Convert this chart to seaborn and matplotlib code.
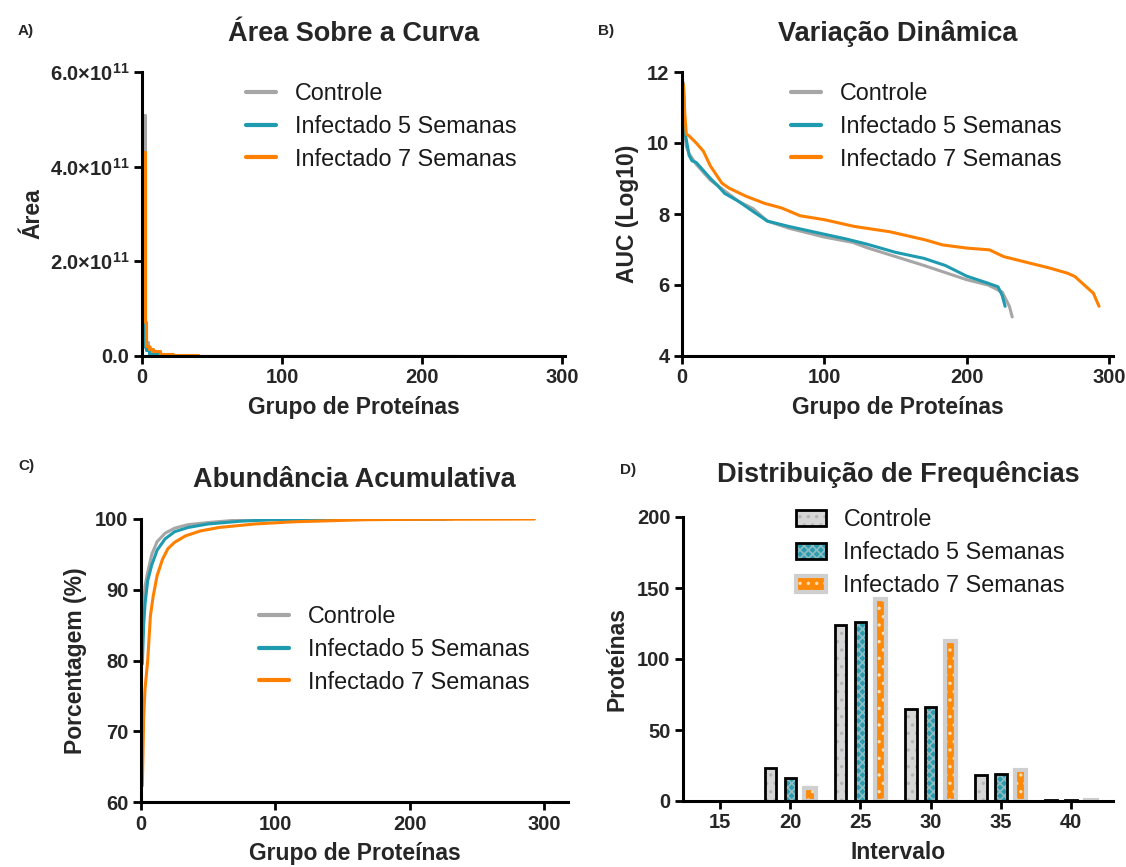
import numpy as np
import pandas as pd
import matplotlib
matplotlib.use("Agg")
import matplotlib.pyplot as plt
import seaborn as sns
from matplotlib.patches import Patch, Rectangle
from matplotlib.lines import Line2D
from matplotlib.ticker import FuncFormatter

# ---------------- DATA ----------------
groups = ["Controle", "Infectado 5 Semanas", "Infectado 7 Semanas"]

# Panel A: area (x1e11) vs protein rank
a_rank_ctrl = [1, 2, 3, 4, 6, 8, 12, 20, 40, 80, 150, 232]
a_area_ctrl = [5.1, 0.55, 0.3, 0.18, 0.1, 0.07, 0.04, 0.015, 0.004, 0.0008, 0.0001, 0.00001]
a_rank_inf5 = [1, 2, 3, 5, 8, 13, 22, 40, 80, 150, 227]
a_area_inf5 = [4.0, 0.2, 0.12, 0.05, 0.035, 0.025, 0.01, 0.003, 0.0007, 0.00008, 0.00001]
a_rank_inf7 = [1, 2, 3, 5, 8, 13, 22, 40, 80, 150, 293]
a_area_inf7 = [4.3, 0.72, 0.22, 0.15, 0.1, 0.05, 0.02, 0.006, 0.002, 0.0003, 0.00003]

# Panel B: AUC (log10) vs protein rank
b_rank_ctrl = [1, 2, 3, 5, 10, 20, 30, 40, 50, 60, 75, 100, 120, 130, 150, 170, 200, 215, 225, 230, 232]
b_auc_ctrl = [11.7, 10.3, 9.9, 9.7, 9.4, 8.95, 8.65, 8.35, 8.15, 7.8, 7.6, 7.35, 7.2, 7.05, 6.8, 6.55, 6.15, 6.0, 5.8, 5.4, 5.1]
b_rank_inf5 = [1, 2, 3, 5, 7, 10, 20, 25, 30, 40, 50, 60, 75, 100, 115, 130, 150, 170, 185, 200, 215, 222, 225, 227]
b_auc_inf5 = [11.6, 10.3, 10.1, 9.65, 9.5, 9.45, 9.0, 8.8, 8.58, 8.35, 8.07, 7.8, 7.65, 7.43, 7.3, 7.15, 6.92, 6.75, 6.55, 6.25, 6.05, 5.95, 5.7, 5.4]
b_rank_inf7 = [1, 2, 3, 5, 10, 15, 20, 28, 33, 45, 58, 70, 83, 100, 121, 146, 171, 183, 200, 216, 226, 246, 259, 271, 276, 284, 289, 293]
b_auc_inf7 = [11.65, 10.8, 10.25, 10.2, 10.0, 9.77, 9.35, 8.87, 8.73, 8.5, 8.3, 8.17, 7.95, 7.84, 7.65, 7.5, 7.27, 7.13, 7.04, 6.99, 6.8, 6.6, 6.47, 6.33, 6.24, 5.95, 5.77, 5.4]

# Panel C: cumulative abundance (%) vs protein rank
c_rank_ctrl = [1, 2, 3, 5, 8, 12, 18, 25, 35, 50, 75, 100, 232]
c_pct_ctrl = [84.0, 88.0, 90.5, 92.5, 95.0, 96.8, 98.0, 98.7, 99.2, 99.5, 99.9, 100.0, 100.0]
c_rank_inf5 = [1, 2, 3, 5, 8, 12, 18, 25, 35, 50, 75, 100, 135, 227]
c_pct_inf5 = [79.5, 85.0, 88.0, 91.3, 93.5, 95.6, 97.2, 98.2, 98.8, 99.3, 99.7, 99.9, 100.0, 100.0]
c_rank_inf7 = [1, 2, 3, 5, 7, 9, 12, 16, 20, 25, 33, 44, 58, 85, 113, 167, 200, 293]
c_pct_inf7 = [62.3, 72.0, 76.0, 80.0, 86.3, 89.0, 92.0, 94.3, 95.8, 96.7, 97.6, 98.3, 98.8, 99.3, 99.6, 99.9, 99.95, 100.0]

# Panel D: frequency distribution
d_intervals = [15, 20, 25, 30, 35, 40]
d_ctrl = [0, 23, 124, 65, 18, 1]
d_inf5 = [0, 16, 126, 66, 19, 1]
d_inf7 = [0, 9, 142, 113, 22, 1]

# ---------------- STYLE ----------------
sns.set_theme(style="ticks")
plt.rcParams["font.family"] = ["Liberation Sans", "DejaVu Sans"]
plt.rcParams["mathtext.fontset"] = "custom"
plt.rcParams["mathtext.rm"] = "Liberation Sans:bold"
plt.rcParams["mathtext.default"] = "rm"
plt.rcParams["axes.linewidth"] = 1.9
plt.rcParams["hatch.linewidth"] = 1.2

C_GRAY = "#a6a6a6"
C_TEAL = "#1f9bb0"
C_ORANGE = "#ff8000"
colors = [C_GRAY, C_TEAL, C_ORANGE]

FIG_W, FIG_H = 1126, 867
fig = plt.figure(figsize=(FIG_W / 100, FIG_H / 100), dpi=100)


def make_ax(l, r, t, b):
    return fig.add_axes([l / FIG_W, 1 - b / FIG_H, (r - l) / FIG_W, (b - t) / FIG_H])


axA = make_ax(142, 565, 72, 356)
axB = make_ax(682, 1113, 72, 356)
axC = make_ax(141, 568, 519, 802)
axD = make_ax(683, 1113, 517, 801)

TITLE_FS = 19.5
LABEL_FS = 16.5
TICK_FS = 14.5
LEG_FS = 16.8
LEG_SP = 0.42


def style_ax(ax):
    sns.despine(ax=ax)
    for s in ("left", "bottom"):
        ax.spines[s].set_linewidth(2.2)
        ax.spines[s].set_color("black")
    ax.tick_params(axis="both", direction="out", length=6, width=2.0, color="black",
                   labelsize=TICK_FS, pad=3)
    for lab in ax.get_xticklabels() + ax.get_yticklabels():
        lab.set_fontweight("bold")
    ax.set_facecolor("white")


def line_panel(ax, ranks, vals, lw=2.2, steps=False):
    kw = dict(drawstyle="steps-post") if steps else {}
    for r, v, c in zip(ranks, vals, colors):
        sns.lineplot(x=r, y=v, ax=ax, color=c, lw=lw, estimator=None, sort=True, **kw)


def line_legend(ax, x, y):
    handles = [Line2D([0], [0], color=c, lw=3) for c in colors]
    leg = ax.legend(handles, groups, loc="upper left", bbox_to_anchor=(x, y),
                    frameon=False, fontsize=LEG_FS, handlelength=1.3, handletextpad=0.8,
                    labelspacing=LEG_SP, borderpad=0, borderaxespad=0)
    for t in leg.get_texts():
        t.set_color("#1a1a1a")
    return leg


# ---------------- Panel A ----------------
line_panel(axA, [a_rank_ctrl, a_rank_inf5, a_rank_inf7],
           [np.array(a_area_ctrl) * 1e11, np.array(a_area_inf5) * 1e11, np.array(a_area_inf7) * 1e11],
           steps=True)
axA.set_xlim(0, 302)
axA.set_ylim(0, 6e11)
axA.set_xticks([0, 100, 200, 300])
axA.set_yticks([0, 2e11, 4e11, 6e11])


def sci_fmt(v, pos):
    if v == 0:
        return "0.0"
    return f"{v / 1e11:.1f}×10$^{{11}}$"


axA.yaxis.set_major_formatter(FuncFormatter(sci_fmt))
axA.set_title("Área Sobre a Curva", fontsize=TITLE_FS, fontweight="bold", pad=22)
axA.set_xlabel("Grupo de Proteínas", fontsize=LABEL_FS, fontweight="bold", labelpad=6)
axA.set_ylabel("Área", fontsize=LABEL_FS, fontweight="bold", labelpad=4)
style_ax(axA)
line_legend(axA, 0.245, 0.965)

# ---------------- Panel B ----------------
line_panel(axB, [b_rank_ctrl, b_rank_inf5, b_rank_inf7], [b_auc_ctrl, b_auc_inf5, b_auc_inf7])
axB.set_xlim(0, 302.8)
axB.set_ylim(4, 12)
axB.set_xticks([0, 100, 200, 300])
axB.set_yticks([4, 6, 8, 10, 12])
axB.set_title("Variação Dinâmica", fontsize=TITLE_FS, fontweight="bold", pad=22)
axB.set_xlabel("Grupo de Proteínas", fontsize=LABEL_FS, fontweight="bold", labelpad=6)
axB.set_ylabel("AUC (Log10)", fontsize=LABEL_FS, fontweight="bold", labelpad=6)
style_ax(axB)
line_legend(axB, 0.253, 0.965)

# ---------------- Panel C ----------------
line_panel(axC, [c_rank_ctrl, c_rank_inf5, c_rank_inf7], [c_pct_ctrl, c_pct_inf5, c_pct_inf7])
axC.set_xlim(0, 318)
axC.set_ylim(60, 100)
axC.set_xticks([0, 100, 200, 300])
axC.set_yticks([60, 70, 80, 90, 100])
axC.set_title("Abundância Acumulativa", fontsize=TITLE_FS, fontweight="bold", pad=23)
axC.set_xlabel("Grupo de Proteínas", fontsize=LABEL_FS, fontweight="bold", labelpad=6)
axC.set_ylabel("Porcentagem (%)", fontsize=LABEL_FS, fontweight="bold", labelpad=6)
style_ax(axC)
line_legend(axC, 0.276, 0.696)

# ---------------- Panel D ----------------
dfD = pd.DataFrame({
    "Intervalo": d_intervals * 3,
    "Proteinas": d_ctrl + d_inf5 + d_inf7,
    "Grupo": [groups[0]] * len(d_intervals) + [groups[1]] * len(d_intervals) + [groups[2]] * len(d_intervals),
})
sns.barplot(data=dfD, x="Intervalo", y="Proteinas", hue="Grupo", hue_order=groups,
            native_scale=True, width=0.85, gap=0.42, palette=colors, errorbar=None,
            legend=False, ax=axD)

bar_styles = [
    dict(face="#d6d6d6", hatch="..", hcol="#b5b5b5", edge="black", elw=2.0),
    dict(face="#2a9cae", hatch="xxxx", hcol="#8fbcc2", edge="black", elw=2.0),
    dict(face="#ff8a0a", hatch="..", hcol="#ffe0b8", edge="#cfcfcf", elw=3.0),
]
for cont, st in zip(axD.containers, bar_styles):
    for p in cont.patches:
        p.set_facecolor(st["face"])
        p.set_hatch(st["hatch"])
        p.set_edgecolor(st["hcol"])
        p.set_linewidth(0)
        if p.get_height() > 0:
            outline = Rectangle(p.get_xy(), p.get_width(), p.get_height(), fill=False,
                                edgecolor=st["edge"], lw=st["elw"], zorder=p.get_zorder() + 0.1)
            axD.add_patch(outline)

axD.set_xlim(12.35, 43.0)
axD.set_ylim(0, 200)
axD.set_xticks([15, 20, 25, 30, 35, 40])
axD.set_xticklabels(["15", "20", "25", "30", "35", "40"])
axD.set_yticks([0, 50, 100, 150, 200])
axD.set_title("Distribuição de Frequências", fontsize=TITLE_FS, fontweight="bold", pad=25)
axD.set_xlabel("Intervalo", fontsize=LABEL_FS, fontweight="bold", labelpad=6)
axD.set_ylabel("Proteínas", fontsize=LABEL_FS, fontweight="bold", labelpad=6)
style_ax(axD)

handlesD = []
for st in bar_styles:
    fillp = Patch(facecolor=st["face"], hatch=st["hatch"], edgecolor=st["hcol"], lw=0)
    edgep = Patch(facecolor="none", edgecolor=st["edge"], lw=st["elw"])
    handlesD.append((fillp, edgep))
legD = axD.legend(handlesD, groups, loc="upper left", bbox_to_anchor=(0.262, 1.03),
                  frameon=False, fontsize=LEG_FS, handlelength=1.3, handleheight=0.7,
                  handletextpad=0.75, labelspacing=LEG_SP, borderpad=0, borderaxespad=0)
for t in legD.get_texts():
    t.set_color("#1a1a1a")

# ---------------- Panel letters ----------------
for lbl, (x, y) in zip(["A)", "B)", "C)", "D)"], [(18, 31), (598, 31), (18, 466), (620, 470)]):
    fig.text(x / FIG_W, 1 - y / FIG_H, lbl, fontsize=11, fontweight="bold", va="center", ha="left")

fig.savefig("out.png", dpi=100, facecolor="white")
